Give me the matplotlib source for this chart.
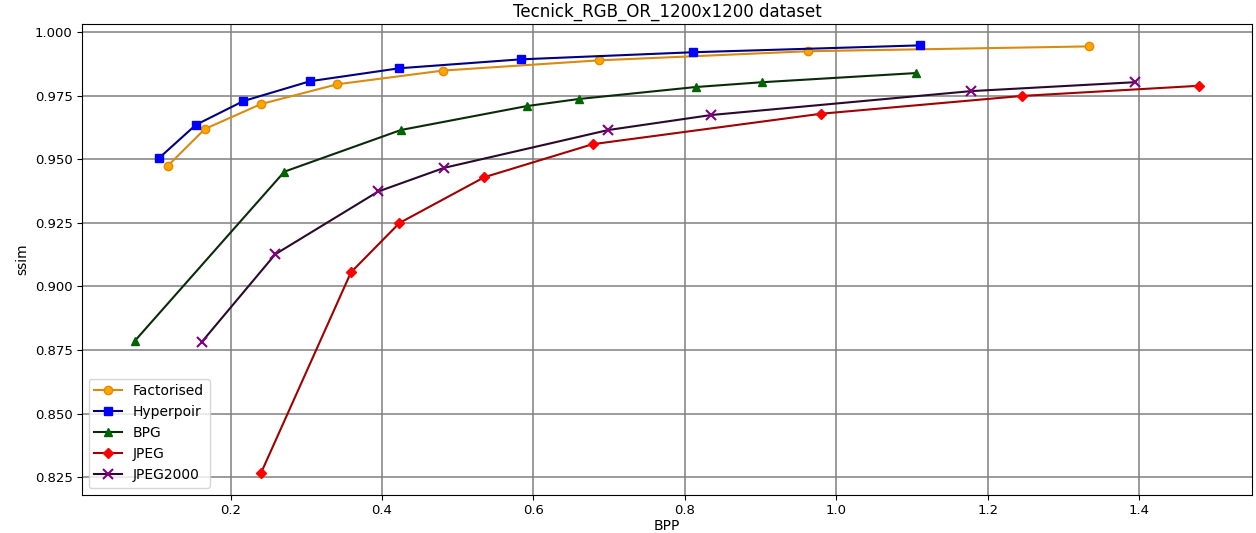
import matplotlib.pyplot as plt

# BPP / SSIM per codec
fact_bpp = [0.117, 0.166, 0.240, 0.341, 0.481, 0.686, 0.963, 1.334]
fact_ssim = [0.9475, 0.9620, 0.9718, 0.9796, 0.9850, 0.9890, 0.9926, 0.9945]

hyper_bpp = [0.106, 0.154, 0.217, 0.305, 0.423, 0.583, 0.811, 1.110]
hyper_ssim = [0.9507, 0.9636, 0.9730, 0.9808, 0.9859, 0.9894, 0.9922, 0.9949]

bpg_bpp = [0.0735, 0.271, 0.425, 0.591, 0.660, 0.814, 0.902, 1.105]
bpg_ssim = [0.8786, 0.9452, 0.9616, 0.9710, 0.9738, 0.9785, 0.9804, 0.9840]

jpeg_bpp = [0.240, 0.359, 0.423, 0.535, 0.678, 0.980, 1.245, 1.479]
jpeg_ssim = [0.8265, 0.9056, 0.9250, 0.9430, 0.9560, 0.9680, 0.9750, 0.9790]

j2k_bpp = [0.162, 0.259, 0.395, 0.482, 0.699, 0.835, 1.178, 1.394]
j2k_ssim = [0.8782, 0.9127, 0.9374, 0.9467, 0.9616, 0.9675, 0.9769, 0.9804]

fig, ax = plt.subplots(figsize=(12.56, 5.33), dpi=100)

ax.plot(fact_bpp, fact_ssim, color='#d98a10', marker='o', markersize=6,
        markerfacecolor='orange', markeredgecolor='#e08a00', lw=1.5, label='Factorised')
ax.plot(hyper_bpp, hyper_ssim, color='#000080', marker='s', markersize=6,
        markerfacecolor='blue', markeredgecolor='blue', lw=1.5, label='Hyperpoir')
ax.plot(bpg_bpp, bpg_ssim, color='#0a2a0a', marker='^', markersize=6,
        markerfacecolor='darkgreen', markeredgecolor='darkgreen', lw=1.5, label='BPG')
ax.plot(jpeg_bpp, jpeg_ssim, color='#a00000', marker='D', markersize=5.5,
        markerfacecolor='red', markeredgecolor='red', lw=1.5, label='JPEG')
ax.plot(j2k_bpp, j2k_ssim, color='#2a0a2a', marker='x', markersize=7,
        markeredgecolor='purple', mew=1.5, lw=1.5, label='JPEG2000')

ax.grid(True, color='gray', lw=1.1)
ax.set_axisbelow(True)
ax.set_title('Tecnick_RGB_OR_1200x1200 dataset', fontsize=12, pad=5)
ax.set_xlabel('BPP', fontsize=10, labelpad=2)
ax.set_ylabel('ssim', fontsize=10)
ax.tick_params(labelsize=9.5, pad=3)
ax.legend(loc='lower left', fontsize=10)

plt.subplots_adjust(left=0.065, right=0.997, bottom=0.072, top=0.955)
plt.savefig('out.png')
